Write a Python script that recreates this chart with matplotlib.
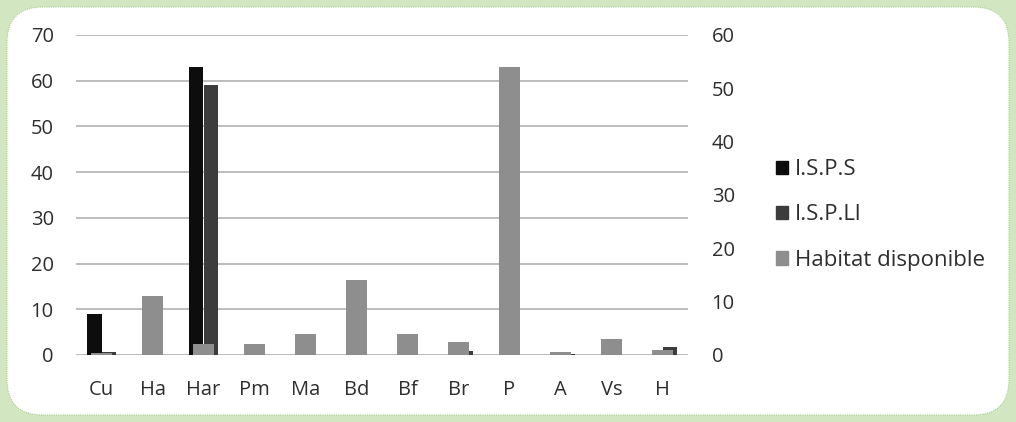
import matplotlib
matplotlib.use("Agg")
import matplotlib.pyplot as plt
import numpy as np
from matplotlib.patches import FancyBboxPatch, Patch

categories = ["Cu", "Ha", "Har", "Pm", "Ma", "Bd", "Bf", "Br", "P", "A", "Vs", "H"]
isps = [9, 0, 63, 0, 0, 0, 0, 0, 0, 0, 0, 0]
ispll = [0.6, 0, 59, 0, 0, 0, 0, 0.8, 0, 0.3, 0, 1.7]
habitat = [0.3, 11, 2, 2, 4, 14, 4, 2.5, 54, 0.5, 3, 0.9]
left_ticks = [0, 10, 20, 30, 40, 50, 60, 70]
right_ticks = [0, 10, 20, 30, 40, 50, 60]

plt.rcParams["font.family"] = ["Open Sans", "DejaVu Sans"]

W, H = 1016, 422
fig = plt.figure(figsize=(W / 100, H / 100), dpi=100)
fig.patch.set_facecolor("#d2e6c2")

box = FancyBboxPatch((7 / W, 7 / H), (W - 14) / W, (H - 14) / H,
                     boxstyle="round,pad=0,rounding_size=0.035",
                     transform=fig.transFigure, facecolor="white",
                     edgecolor="#a8cf8e", linewidth=0.8, linestyle=(0, (1, 1)),
                     mutation_aspect=W / H, zorder=-5)
fig.patches.append(box)

ax = fig.add_axes([76 / W, (H - 355) / H, (688 - 76) / W, (355 - 35) / H])
ax2 = ax.twinx()
ax.set_facecolor("none")
ax2.set_facecolor("none")

x = np.arange(len(categories))
bw = 0.29
ax.bar(x - bw / 2, isps, width=bw, color="#0d0d0d", zorder=3)
ax.bar(x + bw / 2, ispll, width=bw, color="#3c3c3c", zorder=3)
ax2.bar(x, habitat, width=0.4, color="#8e8e8e", zorder=3)

ax.set_xlim(-0.5, len(categories) - 0.5)
ax.set_ylim(0, 70)
ax2.set_ylim(0, 60)
ax.set_yticks(left_ticks)
ax2.set_yticks(right_ticks)
ax.set_xticks(x)
ax.set_xticklabels(categories)

for a in (ax, ax2):
    for s in a.spines.values():
        s.set_visible(False)
    a.tick_params(length=0, labelsize=14.5, colors="#2e2e2e")
ax.tick_params(axis="y", pad=16)
ax2.tick_params(axis="y", pad=17)
ax.tick_params(axis="x", pad=18)

ax.yaxis.grid(True, color="#bdbdbd", linewidth=1.4, zorder=0)
ax.set_axisbelow(True)
ax.axhline(0, color="#bdbdbd", linewidth=1.4, zorder=1)

handles = [Patch(color="#0d0d0d"), Patch(color="#3c3c3c"), Patch(color="#8e8e8e")]
labels = ["I.S.P.S", "I.S.P.Ll", "Habitat disponible"]
fig.legend(handles, labels, loc="center left", bbox_to_anchor=(756 / W, 1 - 215 / H),
           frameon=False, fontsize=16, handlelength=0.55, handleheight=0.55,
           handletextpad=0.3, labelspacing=1.1, labelcolor="#2e2e2e")

fig.savefig("out.png", dpi=100, facecolor=fig.get_facecolor())
